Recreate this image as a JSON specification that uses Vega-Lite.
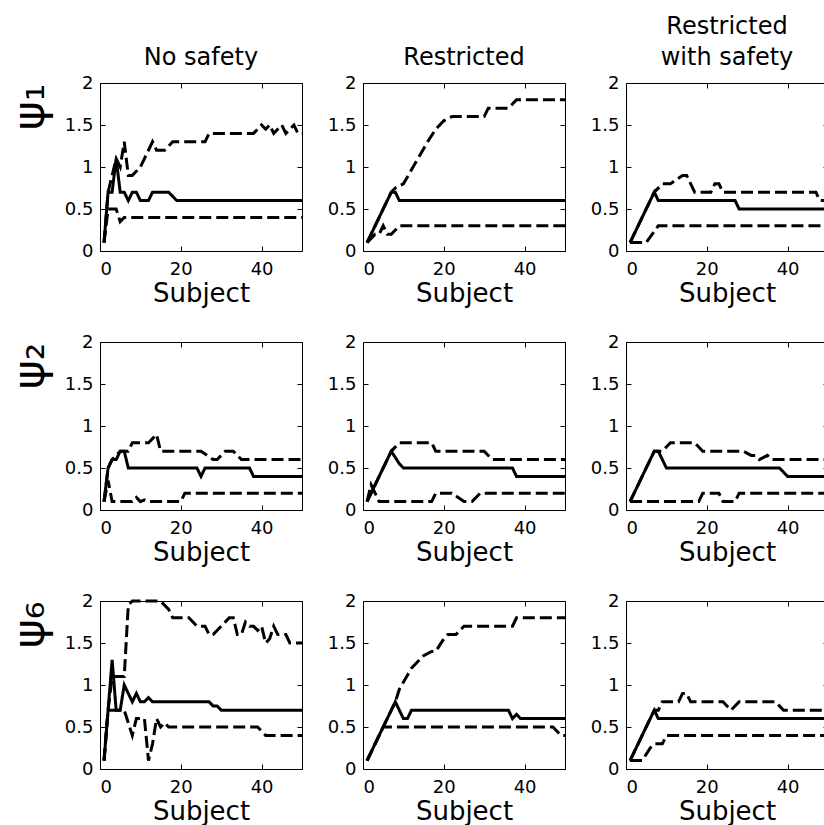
{
"$schema": "https://vega.github.io/schema/vega-lite/v6.json",
"padding": {"left": 7, "top": 14, "right": 0, "bottom": 0},
"background": "white",
"config": {
  "view": {"stroke": "black", "strokeWidth": 1},
  "axis": {"grid": false, "domain": false, "tickColor": "black", "tickSize": -5, "tickWidth": 1, "labelFont": "DejaVu Sans", "labelFontSize": 18, "labelColor": "black", "titleFont": "DejaVu Sans", "titleFontWeight": "normal", "titleColor": "black"},
  "axisBottom": {"labelPadding": 14, "titleFontSize": 26, "titlePadding": 2},
  "axisLeft": {"labelPadding": 12, "titleFontSize": 44, "titleAnchor": "end", "titlePadding": 12},
  "axisTop": {"labels": false, "title": null},
  "axisRight": {"labels": false, "title": null},
  "line": {"color": "black", "strokeWidth": 3},
  "title": {"font": "DejaVu Sans", "fontSize": 24, "fontWeight": "normal", "color": "black", "offset": 4, "lineHeight": 31}
},
"data": {"values": [
{"cond":"N","param":1,"series":"median","x":1,"y":0.1},{"cond":"N","param":1,"series":"median","x":2,"y":0.7},{"cond":"N","param":1,"series":"median","x":3,"y":0.7},{"cond":"N","param":1,"series":"median","x":4,"y":1.1},{"cond":"N","param":1,"series":"median","x":5,"y":0.7},{"cond":"N","param":1,"series":"median","x":6,"y":0.7},{"cond":"N","param":1,"series":"median","x":7,"y":0.6},{"cond":"N","param":1,"series":"median","x":8,"y":0.7},{"cond":"N","param":1,"series":"median","x":9,"y":0.7},{"cond":"N","param":1,"series":"median","x":10,"y":0.6},{"cond":"N","param":1,"series":"median","x":12,"y":0.6},{"cond":"N","param":1,"series":"median","x":13,"y":0.7},{"cond":"N","param":1,"series":"median","x":17,"y":0.7},{"cond":"N","param":1,"series":"median","x":19,"y":0.6},{"cond":"N","param":1,"series":"median","x":50,"y":0.6},
{"cond":"N","param":1,"series":"upper","x":1,"y":0.1},{"cond":"N","param":1,"series":"upper","x":2,"y":0.7},{"cond":"N","param":1,"series":"upper","x":3,"y":0.9},{"cond":"N","param":1,"series":"upper","x":4,"y":1.1},{"cond":"N","param":1,"series":"upper","x":5,"y":1.0},{"cond":"N","param":1,"series":"upper","x":6,"y":1.3},{"cond":"N","param":1,"series":"upper","x":7,"y":0.9},{"cond":"N","param":1,"series":"upper","x":8,"y":0.9},{"cond":"N","param":1,"series":"upper","x":10,"y":1.0},{"cond":"N","param":1,"series":"upper","x":11,"y":1.1},{"cond":"N","param":1,"series":"upper","x":13,"y":1.3},{"cond":"N","param":1,"series":"upper","x":14,"y":1.2},{"cond":"N","param":1,"series":"upper","x":16,"y":1.2},{"cond":"N","param":1,"series":"upper","x":18,"y":1.3},{"cond":"N","param":1,"series":"upper","x":26,"y":1.3},{"cond":"N","param":1,"series":"upper","x":27,"y":1.4},{"cond":"N","param":1,"series":"upper","x":38,"y":1.4},{"cond":"N","param":1,"series":"upper","x":40,"y":1.5},{"cond":"N","param":1,"series":"upper","x":41,"y":1.45},{"cond":"N","param":1,"series":"upper","x":42,"y":1.5},{"cond":"N","param":1,"series":"upper","x":43,"y":1.4},{"cond":"N","param":1,"series":"upper","x":45,"y":1.5},{"cond":"N","param":1,"series":"upper","x":46,"y":1.4},{"cond":"N","param":1,"series":"upper","x":48,"y":1.5},{"cond":"N","param":1,"series":"upper","x":49,"y":1.4},{"cond":"N","param":1,"series":"upper","x":50,"y":1.4},
{"cond":"N","param":1,"series":"lower","x":1,"y":0.1},{"cond":"N","param":1,"series":"lower","x":2,"y":0.5},{"cond":"N","param":1,"series":"lower","x":4,"y":0.5},{"cond":"N","param":1,"series":"lower","x":5,"y":0.35},{"cond":"N","param":1,"series":"lower","x":6,"y":0.4},{"cond":"N","param":1,"series":"lower","x":50,"y":0.4},

{"cond":"R","param":1,"series":"median","x":1,"y":0.1},{"cond":"R","param":1,"series":"median","x":7,"y":0.7},{"cond":"R","param":1,"series":"median","x":8,"y":0.7},{"cond":"R","param":1,"series":"median","x":9,"y":0.6},{"cond":"R","param":1,"series":"median","x":50,"y":0.6},
{"cond":"R","param":1,"series":"upper","x":1,"y":0.1},{"cond":"R","param":1,"series":"upper","x":7,"y":0.7},{"cond":"R","param":1,"series":"upper","x":8,"y":0.75},{"cond":"R","param":1,"series":"upper","x":10,"y":0.8},{"cond":"R","param":1,"series":"upper","x":13,"y":1.05},{"cond":"R","param":1,"series":"upper","x":16,"y":1.3},{"cond":"R","param":1,"series":"upper","x":18,"y":1.45},{"cond":"R","param":1,"series":"upper","x":20,"y":1.55},{"cond":"R","param":1,"series":"upper","x":22,"y":1.6},{"cond":"R","param":1,"series":"upper","x":30,"y":1.6},{"cond":"R","param":1,"series":"upper","x":31,"y":1.7},{"cond":"R","param":1,"series":"upper","x":36,"y":1.7},{"cond":"R","param":1,"series":"upper","x":38,"y":1.8},{"cond":"R","param":1,"series":"upper","x":50,"y":1.8},
{"cond":"R","param":1,"series":"lower","x":1,"y":0.1},{"cond":"R","param":1,"series":"lower","x":3,"y":0.2},{"cond":"R","param":1,"series":"lower","x":4,"y":0.2},{"cond":"R","param":1,"series":"lower","x":5,"y":0.3},{"cond":"R","param":1,"series":"lower","x":6,"y":0.2},{"cond":"R","param":1,"series":"lower","x":7,"y":0.2},{"cond":"R","param":1,"series":"lower","x":9,"y":0.3},{"cond":"R","param":1,"series":"lower","x":50,"y":0.3},

{"cond":"S","param":1,"series":"median","x":1,"y":0.1},{"cond":"S","param":1,"series":"median","x":7,"y":0.7},{"cond":"S","param":1,"series":"median","x":8,"y":0.6},{"cond":"S","param":1,"series":"median","x":27,"y":0.6},{"cond":"S","param":1,"series":"median","x":28,"y":0.5},{"cond":"S","param":1,"series":"median","x":50,"y":0.5},
{"cond":"S","param":1,"series":"upper","x":1,"y":0.1},{"cond":"S","param":1,"series":"upper","x":7,"y":0.7},{"cond":"S","param":1,"series":"upper","x":9,"y":0.8},{"cond":"S","param":1,"series":"upper","x":11,"y":0.8},{"cond":"S","param":1,"series":"upper","x":14,"y":0.9},{"cond":"S","param":1,"series":"upper","x":15,"y":0.9},{"cond":"S","param":1,"series":"upper","x":17,"y":0.7},{"cond":"S","param":1,"series":"upper","x":21,"y":0.7},{"cond":"S","param":1,"series":"upper","x":22,"y":0.8},{"cond":"S","param":1,"series":"upper","x":23,"y":0.8},{"cond":"S","param":1,"series":"upper","x":24,"y":0.7},{"cond":"S","param":1,"series":"upper","x":47,"y":0.7},{"cond":"S","param":1,"series":"upper","x":48,"y":0.6},{"cond":"S","param":1,"series":"upper","x":50,"y":0.6},
{"cond":"S","param":1,"series":"lower","x":1,"y":0.1},{"cond":"S","param":1,"series":"lower","x":5,"y":0.1},{"cond":"S","param":1,"series":"lower","x":8,"y":0.3},{"cond":"S","param":1,"series":"lower","x":50,"y":0.3},

{"cond":"N","param":2,"series":"median","x":1,"y":0.1},{"cond":"N","param":2,"series":"median","x":2,"y":0.5},{"cond":"N","param":2,"series":"median","x":3,"y":0.6},{"cond":"N","param":2,"series":"median","x":4,"y":0.6},{"cond":"N","param":2,"series":"median","x":5,"y":0.7},{"cond":"N","param":2,"series":"median","x":6,"y":0.7},{"cond":"N","param":2,"series":"median","x":7,"y":0.5},{"cond":"N","param":2,"series":"median","x":24,"y":0.5},{"cond":"N","param":2,"series":"median","x":25,"y":0.4},{"cond":"N","param":2,"series":"median","x":26,"y":0.5},{"cond":"N","param":2,"series":"median","x":37,"y":0.5},{"cond":"N","param":2,"series":"median","x":38,"y":0.4},{"cond":"N","param":2,"series":"median","x":50,"y":0.4},
{"cond":"N","param":2,"series":"upper","x":1,"y":0.1},{"cond":"N","param":2,"series":"upper","x":2,"y":0.5},{"cond":"N","param":2,"series":"upper","x":3,"y":0.6},{"cond":"N","param":2,"series":"upper","x":5,"y":0.7},{"cond":"N","param":2,"series":"upper","x":7,"y":0.7},{"cond":"N","param":2,"series":"upper","x":8,"y":0.8},{"cond":"N","param":2,"series":"upper","x":12,"y":0.8},{"cond":"N","param":2,"series":"upper","x":14,"y":0.9},{"cond":"N","param":2,"series":"upper","x":15,"y":0.7},{"cond":"N","param":2,"series":"upper","x":25,"y":0.7},{"cond":"N","param":2,"series":"upper","x":28,"y":0.6},{"cond":"N","param":2,"series":"upper","x":29,"y":0.6},{"cond":"N","param":2,"series":"upper","x":31,"y":0.7},{"cond":"N","param":2,"series":"upper","x":33,"y":0.7},{"cond":"N","param":2,"series":"upper","x":35,"y":0.6},{"cond":"N","param":2,"series":"upper","x":50,"y":0.6},
{"cond":"N","param":2,"series":"lower","x":1,"y":0.1},{"cond":"N","param":2,"series":"lower","x":2,"y":0.35},{"cond":"N","param":2,"series":"lower","x":3,"y":0.1},{"cond":"N","param":2,"series":"lower","x":8,"y":0.1},{"cond":"N","param":2,"series":"lower","x":9,"y":0.15},{"cond":"N","param":2,"series":"lower","x":10,"y":0.1},{"cond":"N","param":2,"series":"lower","x":11,"y":0.12},{"cond":"N","param":2,"series":"lower","x":12,"y":0.1},{"cond":"N","param":2,"series":"lower","x":20,"y":0.1},{"cond":"N","param":2,"series":"lower","x":21,"y":0.2},{"cond":"N","param":2,"series":"lower","x":50,"y":0.2},

{"cond":"R","param":2,"series":"median","x":1,"y":0.1},{"cond":"R","param":2,"series":"median","x":7,"y":0.7},{"cond":"R","param":2,"series":"median","x":9,"y":0.55},{"cond":"R","param":2,"series":"median","x":10,"y":0.5},{"cond":"R","param":2,"series":"median","x":37,"y":0.5},{"cond":"R","param":2,"series":"median","x":38,"y":0.4},{"cond":"R","param":2,"series":"median","x":50,"y":0.4},
{"cond":"R","param":2,"series":"upper","x":1,"y":0.1},{"cond":"R","param":2,"series":"upper","x":7,"y":0.7},{"cond":"R","param":2,"series":"upper","x":9,"y":0.8},{"cond":"R","param":2,"series":"upper","x":17,"y":0.8},{"cond":"R","param":2,"series":"upper","x":18,"y":0.7},{"cond":"R","param":2,"series":"upper","x":30,"y":0.7},{"cond":"R","param":2,"series":"upper","x":32,"y":0.6},{"cond":"R","param":2,"series":"upper","x":50,"y":0.6},
{"cond":"R","param":2,"series":"lower","x":1,"y":0.1},{"cond":"R","param":2,"series":"lower","x":2,"y":0.3},{"cond":"R","param":2,"series":"lower","x":4,"y":0.1},{"cond":"R","param":2,"series":"lower","x":17,"y":0.1},{"cond":"R","param":2,"series":"lower","x":18,"y":0.2},{"cond":"R","param":2,"series":"lower","x":22,"y":0.2},{"cond":"R","param":2,"series":"lower","x":25,"y":0.1},{"cond":"R","param":2,"series":"lower","x":27,"y":0.1},{"cond":"R","param":2,"series":"lower","x":29,"y":0.2},{"cond":"R","param":2,"series":"lower","x":50,"y":0.2},

{"cond":"S","param":2,"series":"median","x":1,"y":0.1},{"cond":"S","param":2,"series":"median","x":7,"y":0.7},{"cond":"S","param":2,"series":"median","x":8,"y":0.7},{"cond":"S","param":2,"series":"median","x":10,"y":0.5},{"cond":"S","param":2,"series":"median","x":38,"y":0.5},{"cond":"S","param":2,"series":"median","x":40,"y":0.4},{"cond":"S","param":2,"series":"median","x":50,"y":0.4},
{"cond":"S","param":2,"series":"upper","x":1,"y":0.1},{"cond":"S","param":2,"series":"upper","x":6,"y":0.6},{"cond":"S","param":2,"series":"upper","x":7,"y":0.7},{"cond":"S","param":2,"series":"upper","x":9,"y":0.7},{"cond":"S","param":2,"series":"upper","x":11,"y":0.8},{"cond":"S","param":2,"series":"upper","x":17,"y":0.8},{"cond":"S","param":2,"series":"upper","x":19,"y":0.7},{"cond":"S","param":2,"series":"upper","x":29,"y":0.7},{"cond":"S","param":2,"series":"upper","x":31,"y":0.65},{"cond":"S","param":2,"series":"upper","x":32,"y":0.65},{"cond":"S","param":2,"series":"upper","x":33,"y":0.6},{"cond":"S","param":2,"series":"upper","x":35,"y":0.65},{"cond":"S","param":2,"series":"upper","x":36,"y":0.6},{"cond":"S","param":2,"series":"upper","x":50,"y":0.6},
{"cond":"S","param":2,"series":"lower","x":1,"y":0.1},{"cond":"S","param":2,"series":"lower","x":18,"y":0.1},{"cond":"S","param":2,"series":"lower","x":19,"y":0.2},{"cond":"S","param":2,"series":"lower","x":23,"y":0.2},{"cond":"S","param":2,"series":"lower","x":24,"y":0.1},{"cond":"S","param":2,"series":"lower","x":27,"y":0.1},{"cond":"S","param":2,"series":"lower","x":28,"y":0.2},{"cond":"S","param":2,"series":"lower","x":50,"y":0.2},

{"cond":"N","param":6,"series":"median","x":1,"y":0.1},{"cond":"N","param":6,"series":"median","x":2,"y":0.7},{"cond":"N","param":6,"series":"median","x":3,"y":1.3},{"cond":"N","param":6,"series":"median","x":4,"y":0.7},{"cond":"N","param":6,"series":"median","x":5,"y":0.7},{"cond":"N","param":6,"series":"median","x":6,"y":1.0},{"cond":"N","param":6,"series":"median","x":7,"y":0.9},{"cond":"N","param":6,"series":"median","x":8,"y":0.8},{"cond":"N","param":6,"series":"median","x":9,"y":0.9},{"cond":"N","param":6,"series":"median","x":10,"y":0.8},{"cond":"N","param":6,"series":"median","x":11,"y":0.8},{"cond":"N","param":6,"series":"median","x":12,"y":0.85},{"cond":"N","param":6,"series":"median","x":13,"y":0.8},{"cond":"N","param":6,"series":"median","x":27,"y":0.8},{"cond":"N","param":6,"series":"median","x":28,"y":0.75},{"cond":"N","param":6,"series":"median","x":29,"y":0.75},{"cond":"N","param":6,"series":"median","x":30,"y":0.7},{"cond":"N","param":6,"series":"median","x":50,"y":0.7},
{"cond":"N","param":6,"series":"upper","x":1,"y":0.1},{"cond":"N","param":6,"series":"upper","x":2,"y":0.7},{"cond":"N","param":6,"series":"upper","x":3,"y":1.1},{"cond":"N","param":6,"series":"upper","x":6,"y":1.1},{"cond":"N","param":6,"series":"upper","x":7,"y":1.95},{"cond":"N","param":6,"series":"upper","x":8,"y":2.0},{"cond":"N","param":6,"series":"upper","x":15,"y":2.0},{"cond":"N","param":6,"series":"upper","x":17,"y":1.9},{"cond":"N","param":6,"series":"upper","x":18,"y":1.8},{"cond":"N","param":6,"series":"upper","x":22,"y":1.8},{"cond":"N","param":6,"series":"upper","x":24,"y":1.7},{"cond":"N","param":6,"series":"upper","x":26,"y":1.7},{"cond":"N","param":6,"series":"upper","x":27,"y":1.6},{"cond":"N","param":6,"series":"upper","x":28,"y":1.6},{"cond":"N","param":6,"series":"upper","x":30,"y":1.7},{"cond":"N","param":6,"series":"upper","x":32,"y":1.8},{"cond":"N","param":6,"series":"upper","x":33,"y":1.8},{"cond":"N","param":6,"series":"upper","x":34,"y":1.6},{"cond":"N","param":6,"series":"upper","x":35,"y":1.6},{"cond":"N","param":6,"series":"upper","x":36,"y":1.75},{"cond":"N","param":6,"series":"upper","x":37,"y":1.7},{"cond":"N","param":6,"series":"upper","x":38,"y":1.7},{"cond":"N","param":6,"series":"upper","x":39,"y":1.65},{"cond":"N","param":6,"series":"upper","x":40,"y":1.7},{"cond":"N","param":6,"series":"upper","x":41,"y":1.5},{"cond":"N","param":6,"series":"upper","x":42,"y":1.55},{"cond":"N","param":6,"series":"upper","x":43,"y":1.7},{"cond":"N","param":6,"series":"upper","x":44,"y":1.6},{"cond":"N","param":6,"series":"upper","x":46,"y":1.6},{"cond":"N","param":6,"series":"upper","x":47,"y":1.5},{"cond":"N","param":6,"series":"upper","x":50,"y":1.5},
{"cond":"N","param":6,"series":"lower","x":1,"y":0.1},{"cond":"N","param":6,"series":"lower","x":2,"y":0.7},{"cond":"N","param":6,"series":"lower","x":6,"y":0.7},{"cond":"N","param":6,"series":"lower","x":7,"y":0.55},{"cond":"N","param":6,"series":"lower","x":8,"y":0.4},{"cond":"N","param":6,"series":"lower","x":9,"y":0.6},{"cond":"N","param":6,"series":"lower","x":11,"y":0.6},{"cond":"N","param":6,"series":"lower","x":12,"y":0.1},{"cond":"N","param":6,"series":"lower","x":13,"y":0.3},{"cond":"N","param":6,"series":"lower","x":14,"y":0.6},{"cond":"N","param":6,"series":"lower","x":15,"y":0.5},{"cond":"N","param":6,"series":"lower","x":16,"y":0.55},{"cond":"N","param":6,"series":"lower","x":17,"y":0.5},{"cond":"N","param":6,"series":"lower","x":39,"y":0.5},{"cond":"N","param":6,"series":"lower","x":41,"y":0.4},{"cond":"N","param":6,"series":"lower","x":50,"y":0.4},

{"cond":"R","param":6,"series":"median","x":1,"y":0.1},{"cond":"R","param":6,"series":"median","x":8,"y":0.8},{"cond":"R","param":6,"series":"median","x":10,"y":0.6},{"cond":"R","param":6,"series":"median","x":11,"y":0.6},{"cond":"R","param":6,"series":"median","x":12,"y":0.7},{"cond":"R","param":6,"series":"median","x":36,"y":0.7},{"cond":"R","param":6,"series":"median","x":37,"y":0.6},{"cond":"R","param":6,"series":"median","x":38,"y":0.65},{"cond":"R","param":6,"series":"median","x":39,"y":0.6},{"cond":"R","param":6,"series":"median","x":50,"y":0.6},
{"cond":"R","param":6,"series":"upper","x":1,"y":0.1},{"cond":"R","param":6,"series":"upper","x":8,"y":0.8},{"cond":"R","param":6,"series":"upper","x":9,"y":0.95},{"cond":"R","param":6,"series":"upper","x":12,"y":1.2},{"cond":"R","param":6,"series":"upper","x":14,"y":1.3},{"cond":"R","param":6,"series":"upper","x":15,"y":1.35},{"cond":"R","param":6,"series":"upper","x":17,"y":1.4},{"cond":"R","param":6,"series":"upper","x":18,"y":1.4},{"cond":"R","param":6,"series":"upper","x":20,"y":1.55},{"cond":"R","param":6,"series":"upper","x":21,"y":1.6},{"cond":"R","param":6,"series":"upper","x":23,"y":1.6},{"cond":"R","param":6,"series":"upper","x":25,"y":1.7},{"cond":"R","param":6,"series":"upper","x":37,"y":1.7},{"cond":"R","param":6,"series":"upper","x":38,"y":1.8},{"cond":"R","param":6,"series":"upper","x":50,"y":1.8},
{"cond":"R","param":6,"series":"lower","x":1,"y":0.1},{"cond":"R","param":6,"series":"lower","x":5,"y":0.5},{"cond":"R","param":6,"series":"lower","x":47,"y":0.5},{"cond":"R","param":6,"series":"lower","x":49,"y":0.4},{"cond":"R","param":6,"series":"lower","x":50,"y":0.4},

{"cond":"S","param":6,"series":"median","x":1,"y":0.1},{"cond":"S","param":6,"series":"median","x":7,"y":0.7},{"cond":"S","param":6,"series":"median","x":8,"y":0.6},{"cond":"S","param":6,"series":"median","x":50,"y":0.6},
{"cond":"S","param":6,"series":"upper","x":1,"y":0.1},{"cond":"S","param":6,"series":"upper","x":7,"y":0.7},{"cond":"S","param":6,"series":"upper","x":8,"y":0.7},{"cond":"S","param":6,"series":"upper","x":9,"y":0.8},{"cond":"S","param":6,"series":"upper","x":13,"y":0.8},{"cond":"S","param":6,"series":"upper","x":14,"y":0.9},{"cond":"S","param":6,"series":"upper","x":15,"y":0.9},{"cond":"S","param":6,"series":"upper","x":16,"y":0.8},{"cond":"S","param":6,"series":"upper","x":24,"y":0.8},{"cond":"S","param":6,"series":"upper","x":26,"y":0.7},{"cond":"S","param":6,"series":"upper","x":28,"y":0.8},{"cond":"S","param":6,"series":"upper","x":37,"y":0.8},{"cond":"S","param":6,"series":"upper","x":39,"y":0.7},{"cond":"S","param":6,"series":"upper","x":50,"y":0.7},
{"cond":"S","param":6,"series":"lower","x":1,"y":0.1},{"cond":"S","param":6,"series":"lower","x":4,"y":0.1},{"cond":"S","param":6,"series":"lower","x":6,"y":0.25},{"cond":"S","param":6,"series":"lower","x":7,"y":0.3},{"cond":"S","param":6,"series":"lower","x":9,"y":0.3},{"cond":"S","param":6,"series":"lower","x":10,"y":0.4},{"cond":"S","param":6,"series":"lower","x":50,"y":0.4}
]},
"spacing": 25,
"vconcat": [
 {"hconcat": [
  {"width": 202, "height": 168, "title": "No safety", "transform": [{"filter": "datum.cond === 'N' && datum.param === 1"}], "resolve": {"axis": {"x": "independent", "y": "independent"}}, "layer": [
   {"mark": "line", "encoding": {"x": {"field": "x", "type": "quantitative", "scale": {"domain": [0, 50]}, "axis": {"values": [0, 20, 40], "title": "Subject"}}, "y": {"field": "y", "type": "quantitative", "scale": {"domain": [0, 2]}, "axis": {"values": [0, 0.5, 1, 1.5, 2], "format": "~g", "title": "ψ₁"}}, "detail": {"field": "series"}, "strokeDash": {"field": "series", "type": "nominal", "scale": {"domain": ["lower", "median", "upper"], "range": [[12, 5], [1, 0], [12, 5]]}, "legend": null}}},
   {"mark": {"type": "line", "opacity": 0}, "encoding": {"x": {"field": "x", "type": "quantitative", "scale": {"domain": [0, 50]}, "axis": {"orient": "top", "values": [0, 20, 40]}}, "y": {"field": "y", "type": "quantitative", "scale": {"domain": [0, 2]}, "axis": {"orient": "right", "values": [0, 0.5, 1, 1.5, 2]}}, "detail": {"field": "series"}}}]},
  {"width": 202, "height": 168, "title": "Restricted", "transform": [{"filter": "datum.cond === 'R' && datum.param === 1"}], "resolve": {"axis": {"x": "independent", "y": "independent"}}, "layer": [
   {"mark": "line", "encoding": {"x": {"field": "x", "type": "quantitative", "scale": {"domain": [0, 50]}, "axis": {"values": [0, 20, 40], "title": "Subject"}}, "y": {"field": "y", "type": "quantitative", "scale": {"domain": [0, 2]}, "axis": {"values": [0, 0.5, 1, 1.5, 2], "format": "~g", "title": null}}, "detail": {"field": "series"}, "strokeDash": {"field": "series", "type": "nominal", "scale": {"domain": ["lower", "median", "upper"], "range": [[12, 5], [1, 0], [12, 5]]}, "legend": null}}},
   {"mark": {"type": "line", "opacity": 0}, "encoding": {"x": {"field": "x", "type": "quantitative", "scale": {"domain": [0, 50]}, "axis": {"orient": "top", "values": [0, 20, 40]}}, "y": {"field": "y", "type": "quantitative", "scale": {"domain": [0, 2]}, "axis": {"orient": "right", "values": [0, 0.5, 1, 1.5, 2]}}, "detail": {"field": "series"}}}]},
  {"width": 202, "height": 168, "title": {"text": ["Restricted", "with safety"]}, "transform": [{"filter": "datum.cond === 'S' && datum.param === 1"}], "resolve": {"axis": {"x": "independent", "y": "independent"}}, "layer": [
   {"mark": "line", "encoding": {"x": {"field": "x", "type": "quantitative", "scale": {"domain": [0, 50]}, "axis": {"values": [0, 20, 40], "title": "Subject"}}, "y": {"field": "y", "type": "quantitative", "scale": {"domain": [0, 2]}, "axis": {"values": [0, 0.5, 1, 1.5, 2], "format": "~g", "title": null}}, "detail": {"field": "series"}, "strokeDash": {"field": "series", "type": "nominal", "scale": {"domain": ["lower", "median", "upper"], "range": [[12, 5], [1, 0], [12, 5]]}, "legend": null}}},
   {"mark": {"type": "line", "opacity": 0}, "encoding": {"x": {"field": "x", "type": "quantitative", "scale": {"domain": [0, 50]}, "axis": {"orient": "top", "values": [0, 20, 40]}}, "y": {"field": "y", "type": "quantitative", "scale": {"domain": [0, 2]}, "axis": {"orient": "right", "values": [0, 0.5, 1, 1.5, 2]}}, "detail": {"field": "series"}}}]}
 ], "spacing": 61, "bounds": "flush"},
 {"hconcat": [
  {"width": 202, "height": 168, "transform": [{"filter": "datum.cond === 'N' && datum.param === 2"}], "resolve": {"axis": {"x": "independent", "y": "independent"}}, "layer": [
   {"mark": "line", "encoding": {"x": {"field": "x", "type": "quantitative", "scale": {"domain": [0, 50]}, "axis": {"values": [0, 20, 40], "title": "Subject"}}, "y": {"field": "y", "type": "quantitative", "scale": {"domain": [0, 2]}, "axis": {"values": [0, 0.5, 1, 1.5, 2], "format": "~g", "title": "ψ₂"}}, "detail": {"field": "series"}, "strokeDash": {"field": "series", "type": "nominal", "scale": {"domain": ["lower", "median", "upper"], "range": [[12, 5], [1, 0], [12, 5]]}, "legend": null}}},
   {"mark": {"type": "line", "opacity": 0}, "encoding": {"x": {"field": "x", "type": "quantitative", "scale": {"domain": [0, 50]}, "axis": {"orient": "top", "values": [0, 20, 40]}}, "y": {"field": "y", "type": "quantitative", "scale": {"domain": [0, 2]}, "axis": {"orient": "right", "values": [0, 0.5, 1, 1.5, 2]}}, "detail": {"field": "series"}}}]},
  {"width": 202, "height": 168, "transform": [{"filter": "datum.cond === 'R' && datum.param === 2"}], "resolve": {"axis": {"x": "independent", "y": "independent"}}, "layer": [
   {"mark": "line", "encoding": {"x": {"field": "x", "type": "quantitative", "scale": {"domain": [0, 50]}, "axis": {"values": [0, 20, 40], "title": "Subject"}}, "y": {"field": "y", "type": "quantitative", "scale": {"domain": [0, 2]}, "axis": {"values": [0, 0.5, 1, 1.5, 2], "format": "~g", "title": null}}, "detail": {"field": "series"}, "strokeDash": {"field": "series", "type": "nominal", "scale": {"domain": ["lower", "median", "upper"], "range": [[12, 5], [1, 0], [12, 5]]}, "legend": null}}},
   {"mark": {"type": "line", "opacity": 0}, "encoding": {"x": {"field": "x", "type": "quantitative", "scale": {"domain": [0, 50]}, "axis": {"orient": "top", "values": [0, 20, 40]}}, "y": {"field": "y", "type": "quantitative", "scale": {"domain": [0, 2]}, "axis": {"orient": "right", "values": [0, 0.5, 1, 1.5, 2]}}, "detail": {"field": "series"}}}]},
  {"width": 202, "height": 168, "transform": [{"filter": "datum.cond === 'S' && datum.param === 2"}], "resolve": {"axis": {"x": "independent", "y": "independent"}}, "layer": [
   {"mark": "line", "encoding": {"x": {"field": "x", "type": "quantitative", "scale": {"domain": [0, 50]}, "axis": {"values": [0, 20, 40], "title": "Subject"}}, "y": {"field": "y", "type": "quantitative", "scale": {"domain": [0, 2]}, "axis": {"values": [0, 0.5, 1, 1.5, 2], "format": "~g", "title": null}}, "detail": {"field": "series"}, "strokeDash": {"field": "series", "type": "nominal", "scale": {"domain": ["lower", "median", "upper"], "range": [[12, 5], [1, 0], [12, 5]]}, "legend": null}}},
   {"mark": {"type": "line", "opacity": 0}, "encoding": {"x": {"field": "x", "type": "quantitative", "scale": {"domain": [0, 50]}, "axis": {"orient": "top", "values": [0, 20, 40]}}, "y": {"field": "y", "type": "quantitative", "scale": {"domain": [0, 2]}, "axis": {"orient": "right", "values": [0, 0.5, 1, 1.5, 2]}}, "detail": {"field": "series"}}}]}
 ], "spacing": 61, "bounds": "flush"},
 {"hconcat": [
  {"width": 202, "height": 168, "transform": [{"filter": "datum.cond === 'N' && datum.param === 6"}], "resolve": {"axis": {"x": "independent", "y": "independent"}}, "layer": [
   {"mark": "line", "encoding": {"x": {"field": "x", "type": "quantitative", "scale": {"domain": [0, 50]}, "axis": {"values": [0, 20, 40], "title": "Subject"}}, "y": {"field": "y", "type": "quantitative", "scale": {"domain": [0, 2]}, "axis": {"values": [0, 0.5, 1, 1.5, 2], "format": "~g", "title": "ψ₆"}}, "detail": {"field": "series"}, "strokeDash": {"field": "series", "type": "nominal", "scale": {"domain": ["lower", "median", "upper"], "range": [[12, 5], [1, 0], [12, 5]]}, "legend": null}}},
   {"mark": {"type": "line", "opacity": 0}, "encoding": {"x": {"field": "x", "type": "quantitative", "scale": {"domain": [0, 50]}, "axis": {"orient": "top", "values": [0, 20, 40]}}, "y": {"field": "y", "type": "quantitative", "scale": {"domain": [0, 2]}, "axis": {"orient": "right", "values": [0, 0.5, 1, 1.5, 2]}}, "detail": {"field": "series"}}}]},
  {"width": 202, "height": 168, "transform": [{"filter": "datum.cond === 'R' && datum.param === 6"}], "resolve": {"axis": {"x": "independent", "y": "independent"}}, "layer": [
   {"mark": "line", "encoding": {"x": {"field": "x", "type": "quantitative", "scale": {"domain": [0, 50]}, "axis": {"values": [0, 20, 40], "title": "Subject"}}, "y": {"field": "y", "type": "quantitative", "scale": {"domain": [0, 2]}, "axis": {"values": [0, 0.5, 1, 1.5, 2], "format": "~g", "title": null}}, "detail": {"field": "series"}, "strokeDash": {"field": "series", "type": "nominal", "scale": {"domain": ["lower", "median", "upper"], "range": [[12, 5], [1, 0], [12, 5]]}, "legend": null}}},
   {"mark": {"type": "line", "opacity": 0}, "encoding": {"x": {"field": "x", "type": "quantitative", "scale": {"domain": [0, 50]}, "axis": {"orient": "top", "values": [0, 20, 40]}}, "y": {"field": "y", "type": "quantitative", "scale": {"domain": [0, 2]}, "axis": {"orient": "right", "values": [0, 0.5, 1, 1.5, 2]}}, "detail": {"field": "series"}}}]},
  {"width": 202, "height": 168, "transform": [{"filter": "datum.cond === 'S' && datum.param === 6"}], "resolve": {"axis": {"x": "independent", "y": "independent"}}, "layer": [
   {"mark": "line", "encoding": {"x": {"field": "x", "type": "quantitative", "scale": {"domain": [0, 50]}, "axis": {"values": [0, 20, 40], "title": "Subject"}}, "y": {"field": "y", "type": "quantitative", "scale": {"domain": [0, 2]}, "axis": {"values": [0, 0.5, 1, 1.5, 2], "format": "~g", "title": null}}, "detail": {"field": "series"}, "strokeDash": {"field": "series", "type": "nominal", "scale": {"domain": ["lower", "median", "upper"], "range": [[12, 5], [1, 0], [12, 5]]}, "legend": null}}},
   {"mark": {"type": "line", "opacity": 0}, "encoding": {"x": {"field": "x", "type": "quantitative", "scale": {"domain": [0, 50]}, "axis": {"orient": "top", "values": [0, 20, 40]}}, "y": {"field": "y", "type": "quantitative", "scale": {"domain": [0, 2]}, "axis": {"orient": "right", "values": [0, 0.5, 1, 1.5, 2]}}, "detail": {"field": "series"}}}]}
 ], "spacing": 61, "bounds": "flush"}
]
}
